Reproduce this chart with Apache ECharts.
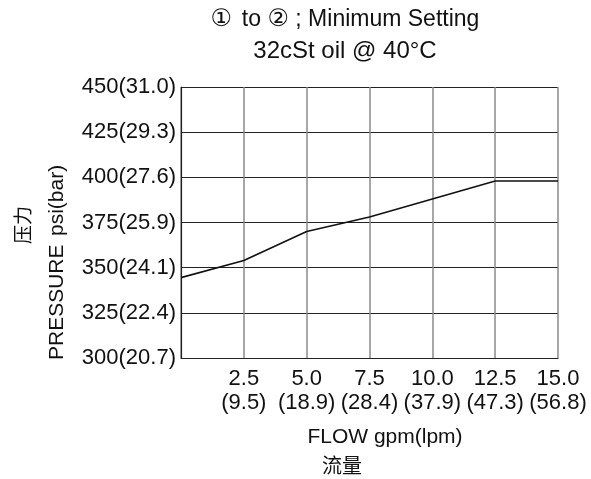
<!DOCTYPE html>
<html>
<head>
<meta charset="utf-8">
<script src="https://cdn.jsdelivr.net/npm/echarts@6/dist/echarts.min.js"></script>
<style>html,body{margin:0;padding:0;background:#fff}#c{width:591px;height:479px}</style>
</head>
<body>
<div id="c"></div>
<script>
var flowGpm = [0, 2.5, 5.0, 7.5, 10.0, 12.5, 15.0];
var pressurePsi = [344.5, 354, 370, 378, 388, 398, 398];
var xTickGpm = ['2.5', '5.0', '7.5', '10.0', '12.5', '15.0'];
var xTickLpm = ['(9.5)', '(18.9)', '(28.4)', '(37.9)', '(47.3)', '(56.8)'];
var yTickPsi = [300, 325, 350, 375, 400, 425, 450];
var yTickBar = ['20.7', '22.4', '24.1', '25.9', '27.6', '29.3', '31.0'];
var titleMark1 = '\u2460';
var titleMark2 = '\u2461';
var titleText1 = ' to ';
var titleText2 = ' ; Minimum Setting';
var titleLine2 = '32cSt oil @ 40\u00b0C';
var xName = 'FLOW gpm(lpm)';
var xNameCn = '\u6d41\u91cf';
var yName1 = 'PRESSURE';
var yName2 = 'psi(bar)';
var yNameCn = '\u538b\u529b';

var FONT = '"Liberation Sans", Arial, Helvetica, sans-serif';
var CJK = '"Noto Sans CJK SC", sans-serif';
var chart = echarts.init(document.getElementById('c'));
chart.setOption({
  animation: false,
  backgroundColor: '#fff',
  grid: {left: 181, right: 33, top: 87, bottom: 121},
  graphic: [
    {type: 'text', x: 345, y: 20, style: {
      text: '{m|' + titleMark1 + '} {t|' + titleText1 + '}{m|' + titleMark2 + '}{t|' + titleText2 + '}',
      textAlign: 'center', textVerticalAlign: 'middle',
      rich: {
        m: {fontFamily: '"DejaVu Sans", sans-serif', fontSize: 24, fill: '#111'},
        t: {fontFamily: FONT, fontSize: 23, fill: '#111'}
      }
    }},
    {type: 'text', x: 345, y: 51, style: {text: titleLine2, font: '24px ' + FONT, fill: '#111', textAlign: 'center', textVerticalAlign: 'middle'}},
    {type: 'text', x: 385, y: 437, style: {text: xName, font: '21px ' + FONT, fill: '#111', textAlign: 'center', textVerticalAlign: 'middle'}},
    {type: 'text', x: 342, y: 465, style: {text: xNameCn, font: '20px ' + CJK, fill: '#111', textAlign: 'center', textVerticalAlign: 'middle'}},
    {type: 'text', x: 57, y: 360, rotation: Math.PI / 2, style: {text: yName1, font: '21px ' + FONT, fill: '#111', textAlign: 'left', textVerticalAlign: 'middle'}},
    {type: 'text', x: 57, y: 236, rotation: Math.PI / 2, style: {text: yName2, font: '21px ' + FONT, fill: '#111', textAlign: 'left', textVerticalAlign: 'middle'}},
    {type: 'text', x: 23, y: 225, rotation: Math.PI / 2, style: {text: yNameCn, font: '19px ' + CJK, fill: '#111', textAlign: 'center', textVerticalAlign: 'middle'}}
  ],
  xAxis: {
    type: 'value', min: 0, max: 15, interval: 2.5,
    axisLine: {show: true, lineStyle: {color: '#222', width: 1.2}},
    axisTick: {show: false},
    splitLine: {show: true, lineStyle: {color: '#8a8a8a', width: 1.5}},
    axisLabel: {
      color: '#111', fontFamily: FONT, fontSize: 22, lineHeight: 24, margin: 9,
      hideOverlap: false, showMaxLabel: true,
      formatter: function (v) {
        var i = Math.round(v / 2.5) - 1;
        if (i < 0) return '';
        return xTickGpm[i] + '\n' + xTickLpm[i];
      }
    }
  },
  yAxis: {
    type: 'value', min: 300, max: 450, interval: 25,
    axisLine: {show: true, lineStyle: {color: '#222', width: 1.2}},
    axisTick: {show: false},
    splitLine: {show: true, lineStyle: {color: '#222', width: 1.2}},
    axisLabel: {
      color: '#111', fontFamily: FONT, fontSize: 22, margin: 5,
      formatter: function (v) {
        var i = yTickPsi.indexOf(v);
        return v + '(' + yTickBar[i] + ')';
      }
    }
  },
  series: [{
    type: 'line',
    data: flowGpm.map(function (x, i) { return [x, pressurePsi[i]]; }),
    showSymbol: false,
    lineStyle: {color: '#111', width: 1.6}
  }]
});
</script>
</body>
</html>
